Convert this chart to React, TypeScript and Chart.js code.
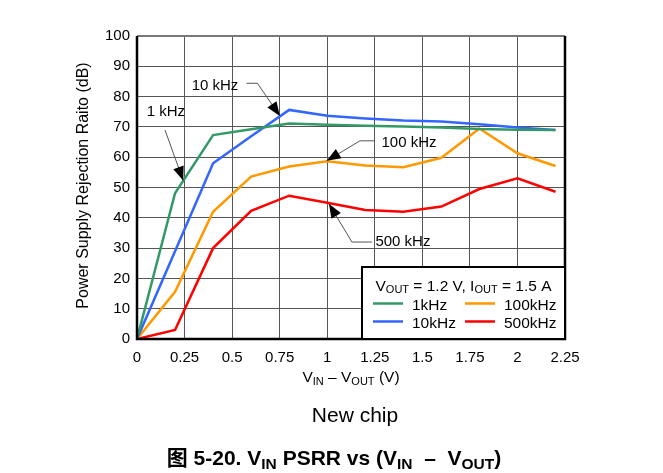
import React, { useEffect, useRef } from "react";
import { Chart, registerables } from "chart.js";

Chart.register(...registerables);

// ---- data ----
const vDrop = [0, 0.2, 0.4, 0.6, 0.8, 1.0, 1.2, 1.4, 1.6, 1.8, 2.0, 2.2];
const psrr1k = [0, 48.1, 67.3, 69.2, 71.1, 70.7, 70.4, 70.1, 69.8, 69.3, 69.1, 69.0];
const psrr10k = [0, 29.0, 58.0, 66.9, 75.6, 73.7, 72.8, 72.1, 71.8, 70.9, 69.8, 69.0];
const psrr100k = [0, 15.6, 42.0, 53.6, 56.9, 58.7, 57.3, 56.7, 59.8, 69.5, 61.3, 57.1];
const psrr500k = [0, 3.0, 30.0, 42.3, 47.3, 45.0, 42.6, 42.0, 43.7, 49.5, 53.0, 48.6];

const seriesLabels = ["1kHz", "10kHz", "100kHz", "500kHz"];
const seriesColors = ["#339966", "#3366ff", "#ff9900", "#ff0000"];
const seriesValues = [psrr1k, psrr10k, psrr100k, psrr500k];

const xTickValues = [0, 0.25, 0.5, 0.75, 1, 1.25, 1.5, 1.75, 2, 2.25];
const yTickValues = [0, 10, 20, 30, 40, 50, 60, 70, 80, 90, 100];

// annotation callouts: label centre and leader path (last point = arrow tip), in data units
const calloutTexts = ["1 kHz", "10 kHz", "100 kHz", "500 kHz"];
const calloutLabelAt = [
  [0.152, 74.9],
  [0.41, 83.5],
  [1.43, 64.85],
  [1.398, 32.0],
];
const calloutPaths = [
  [[0.147, 69.0], [0.243, 52.3]],
  [[0.576, 84.4], [0.633, 84.4], [0.751, 73.6]],
  [[1.251, 65.4], [1.172, 65.4], [0.997, 58.8]],
  [[1.235, 32.0], [1.13, 32.0], [1.009, 44.6]],
];

const FONT = "'Liberation Sans', Arial, 'Noto Sans CJK SC', sans-serif";

type Seg = [string, boolean];

function drawRich(
  ctx: CanvasRenderingContext2D,
  segs: Seg[],
  x: number,
  y: number,
  size: number,
  subSize: number,
  subDrop: number,
  bold = false
) {
  const w = bold ? "bold " : "";
  let total = 0;
  for (const [t, sub] of segs) {
    ctx.font = `${w}${sub ? subSize : size}px ${FONT}`;
    total += ctx.measureText(t).width;
  }
  let cx = x - total / 2;
  ctx.textAlign = "left";
  ctx.textBaseline = "alphabetic";
  ctx.fillStyle = "#000";
  for (const [t, sub] of segs) {
    ctx.font = `${w}${sub ? subSize : size}px ${FONT}`;
    ctx.fillText(t, cx, sub ? y + subDrop : y);
    cx += ctx.measureText(t).width;
  }
}

const overlayPlugin = {
  id: "overlay",
  afterDraw(chart: any) {
    const ctx: CanvasRenderingContext2D = chart.ctx;
    const { left, right, top, bottom } = chart.chartArea;
    const xs = chart.scales.x;
    const ys = chart.scales.y;
    ctx.save();

    // frame
    ctx.strokeStyle = "#777";
    ctx.lineWidth = 2;
    ctx.beginPath();
    ctx.moveTo(left, top);
    ctx.lineTo(right, top);
    ctx.stroke();
    ctx.strokeStyle = "#000";
    ctx.lineWidth = 2.5;
    ctx.beginPath();
    ctx.moveTo(left, top);
    ctx.lineTo(left, bottom);
    ctx.lineTo(right, bottom);
    ctx.lineTo(right, top);
    ctx.stroke();

    // callouts
    calloutTexts.forEach((txt, i) => {
      const pts = calloutPaths[i].map(([vx, vy]) => [xs.getPixelForValue(vx), ys.getPixelForValue(vy)]);
      ctx.strokeStyle = "#555";
      ctx.lineWidth = 1;
      ctx.beginPath();
      pts.forEach(([px, py], k) => (k === 0 ? ctx.moveTo(px, py) : ctx.lineTo(px, py)));
      ctx.stroke();
      const [tx, ty] = pts[pts.length - 1];
      const [bx, by] = pts[pts.length - 2];
      const ang = Math.atan2(ty - by, tx - bx);
      const L = 14, H = 5.5;
      ctx.fillStyle = "#000";
      ctx.beginPath();
      ctx.moveTo(tx, ty);
      ctx.lineTo(tx - L * Math.cos(ang) - H * Math.sin(ang), ty - L * Math.sin(ang) + H * Math.cos(ang));
      ctx.lineTo(tx - L * Math.cos(ang) + H * Math.sin(ang), ty - L * Math.sin(ang) - H * Math.cos(ang));
      ctx.closePath();
      ctx.fill();
      ctx.font = `15px ${FONT}`;
      ctx.textAlign = "center";
      ctx.textBaseline = "middle";
      ctx.fillText(txt, xs.getPixelForValue(calloutLabelAt[i][0]), ys.getPixelForValue(calloutLabelAt[i][1]));
    });

    // legend box
    const lw = 203, lh = 72;
    const lx = right - lw, ly = bottom - lh;
    ctx.fillStyle = "#fff";
    ctx.fillRect(lx, ly, lw, lh);
    ctx.strokeStyle = "#000";
    ctx.lineWidth = 2;
    ctx.strokeRect(lx, ly, lw, lh);
    drawRich(ctx, [["V", false], ["OUT", true], [" = 1.2 V, I", false], ["OUT", true], [" = 1.5 A", false]], lx + lw / 2, ly + 24, 15.5, 11, 1.5);
    seriesLabels.forEach((lab, i) => {
      const c = i < 2 ? 0 : 1;
      const r = i % 2;
      const sx = lx + 11 + c * 92;
      const sy = ly + 36.5 + r * 18;
      ctx.strokeStyle = seriesColors[i];
      ctx.lineWidth = 2.5;
      ctx.beginPath();
      ctx.moveTo(sx, sy);
      ctx.lineTo(sx + 30, sy);
      ctx.stroke();
      ctx.fillStyle = "#000";
      ctx.font = `15.5px ${FONT}`;
      ctx.textAlign = "left";
      ctx.textBaseline = "alphabetic";
      ctx.fillText(lab, sx + 39, sy + 6);
    });

    // axis titles
    drawRich(ctx, [["V", false], ["IN", true], [" \u2013 V", false], ["OUT", true], [" (V)", false]], (left + right) / 2, bottom + 43, 15.5, 11, 3);
    ctx.save();
    ctx.translate(84, (top + bottom) / 2 - 2);
    ctx.rotate(-Math.PI / 2);
    ctx.font = `16px ${FONT}`;
    ctx.fillStyle = "#000";
    ctx.textAlign = "center";
    ctx.textBaseline = "middle";
    ctx.fillText("Power Supply Rejection Raito (dB)", 0, 0);
    ctx.restore();

    // captions
    ctx.font = `21px ${FONT}`;
    ctx.fillStyle = "#000";
    ctx.textAlign = "center";
    ctx.textBaseline = "alphabetic";
    ctx.fillText("New chip", 355, 422);
    drawRich(
      ctx,
      [["\u56fe 5-20. V", false], ["IN", true], [" PSRR vs (V", false], ["IN", true], ["  \u2013  V", false], ["OUT", true], [")", false]],
      334,
      465,
      21,
      15.5,
      4,
      true
    );
    ctx.restore();
  },
};

export default function App() {
  const ref = useRef<HTMLCanvasElement | null>(null);
  useEffect(() => {
    if (!ref.current) return;
    const chart = new Chart(ref.current, {
      type: "line",
      data: {
        datasets: seriesValues.map((vals, i) => ({
          label: seriesLabels[i],
          data: vDrop.map((x, k) => ({ x, y: vals[k] })),
          borderColor: seriesColors[i],
          backgroundColor: seriesColors[i],
          borderWidth: 2.5,
          pointRadius: 0,
          tension: 0,
          fill: false,
        })),
      },
      options: {
        responsive: false,
        animation: false,
        devicePixelRatio: 1,
        layout: { padding: { left: 0, top: 36, right: 98, bottom: 0 } },
        plugins: { legend: { display: false }, tooltip: { enabled: false } },
        scales: {
          x: {
            type: "linear",
            min: 0,
            max: 2.25,
            afterBuildTicks: (s: any) => {
              s.ticks = xTickValues.map((v) => ({ value: v }));
            },
            afterFit: (s: any) => {
              s.height = 134;
            },
            ticks: {
              padding: 10,
              color: "#000",
              font: { size: 15, family: FONT },
              maxRotation: 0,
              autoSkip: false,
              callback: (v: any) => String(v),
            },
            grid: { color: "#555", lineWidth: 1, drawTicks: false },
            border: { display: false },
          },
          y: {
            type: "linear",
            min: 0,
            max: 100,
            afterBuildTicks: (s: any) => {
              s.ticks = yTickValues.map((v) => ({ value: v }));
            },
            afterFit: (s: any) => {
              s.width = 137;
            },
            ticks: {
              padding: 7,
              color: "#000",
              font: { size: 15, family: FONT },
              autoSkip: false,
              callback: (v: any) => String(v),
            },
            grid: { color: "#555", lineWidth: 1, drawTicks: false },
            border: { display: false },
          },
        },
      } as any,
      plugins: [overlayPlugin],
    });
    return () => chart.destroy();
  }, []);
  return (
    <div style={{ position: "fixed", left: 0, top: 0, width: 663, height: 473, background: "#fff" }}>
      <canvas ref={ref} width={663} height={473} style={{ width: 663, height: 473, display: "block" }} />
    </div>
  );
}
